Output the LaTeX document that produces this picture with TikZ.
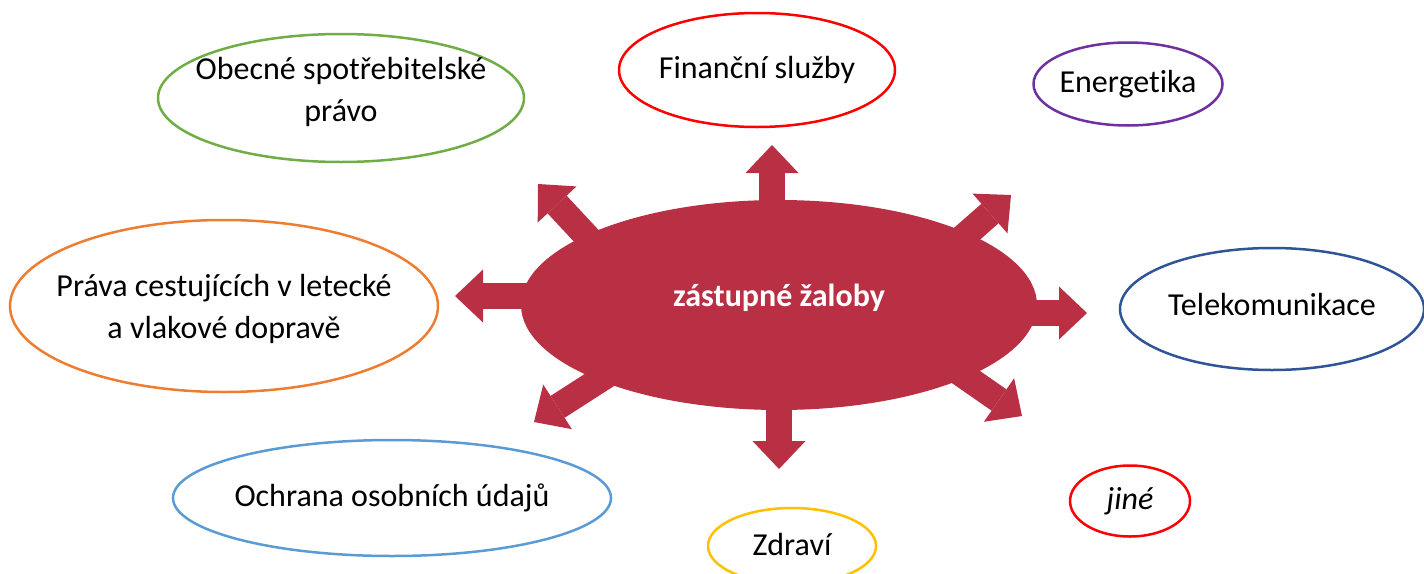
\documentclass[tikz,border=0pt]{standalone}
\usepackage{fontspec}
\setmainfont{Carlito}[RawFeature={-liga;-clig;-calt;-dlig}]
\usetikzlibrary{shapes.geometric,arrows.meta}
\definecolor{zalred}{RGB}{185,48,69}
\definecolor{ogreen}{RGB}{112,173,71}
\definecolor{ored}{RGB}{255,0,0}
\definecolor{opurple}{RGB}{112,48,160}
\definecolor{oorange}{RGB}{237,125,49}
\definecolor{odarkblue}{RGB}{47,85,151}
\definecolor{olightblue}{RGB}{91,155,213}
\definecolor{ogold}{RGB}{255,192,0}
\tikzset{
  bubble/.style={ellipse, draw=#1, line width=2.5pt, inner sep=0pt},
  spoke/.style={draw=zalred, line width=26pt, -{Triangle[length=28pt,width=53pt,line width=0pt]}}
}

\begin{document}
\begin{tikzpicture}[x=1pt,y=-1pt,font=\fontsize{32}{42}\selectfont]
  \useasboundingbox (0,0) rectangle (1424,573);
  \clip (0,0) rectangle (1424,573);
  \coordinate (hub) at (779,305);
  \coordinate (tipn) at (772,145);
  \coordinate (tips) at (779,469);
  \coordinate (tipw) at (455,296);
  \coordinate (tipe) at (1087,313);
  \coordinate (tipnw) at (538,184);
  \coordinate (tipne) at (1011,195);
  \coordinate (tipsw) at (534,422);
  \coordinate (tipse) at (1022,416);
  \draw[spoke] ([shift={(-7,-60)}]hub) -- (tipn);
  \draw[spoke] ([shift={(0,64)}]hub) -- (tips);
  \draw[spoke] ([shift={(-219,-9)}]hub) -- (tipw);
  \draw[spoke] ([shift={(221,8)}]hub) -- (tipe);
  \draw[spoke] ([shift={(-173,-48)}]hub) -- (tipnw);
  \draw[spoke] ([shift={(157,-44)}]hub) -- (tipne);
  \draw[spoke] ([shift={(-161,63)}]hub) -- (tipsw);
  \draw[spoke] ([shift={(161,54)}]hub) -- (tipse);
  \node[ellipse, fill=zalred, minimum width=516pt, minimum height=210pt,
    label={[text=white,yshift=7pt]center:\bfseries zástupné žaloby}] (zal) at (hub) {};

  \node[bubble=ogreen, minimum width=366pt, minimum height=128pt,
    label={[align=center,yshift=6pt]center:Obecné spotřebitelské\\právo}] (obec) at (341,98) {};
  \node[bubble=ored, minimum width=276pt, minimum height=114pt,
    label={center:Finanční služby}] (fin) at (757,70) {};
  \node[bubble=opurple, minimum width=189pt, minimum height=83pt,
    label={center:Energetika}] (ener) at (1128,84) {};
  \node[bubble=oorange, minimum width=428pt, minimum height=172pt,
    label={[align=center,yshift=-3pt]center:Práva cestujících v letecké\\a vlakové dopravě}] (cest) at (224,306) {};
  \node[bubble=odarkblue, minimum width=304pt, minimum height=122pt,
    label={[yshift=4pt]center:Telekomunikace}] (tele) at (1272,309) {};
  \node[bubble=olightblue, minimum width=438pt, minimum height=116pt,
    label={center:Ochrana osobních údajů}] (oou) at (392,498) {};
  \node[bubble=ogold, minimum width=168pt, minimum height=76pt,
    label={[yshift=2pt]center:Zdraví}] (zdr) at (792,546) {};
  \node[bubble=ored, minimum width=120pt, minimum height=71pt,
    label={center:\textit{jiné}}] (jine) at (1130,501) {};
\end{tikzpicture}
\end{document}
